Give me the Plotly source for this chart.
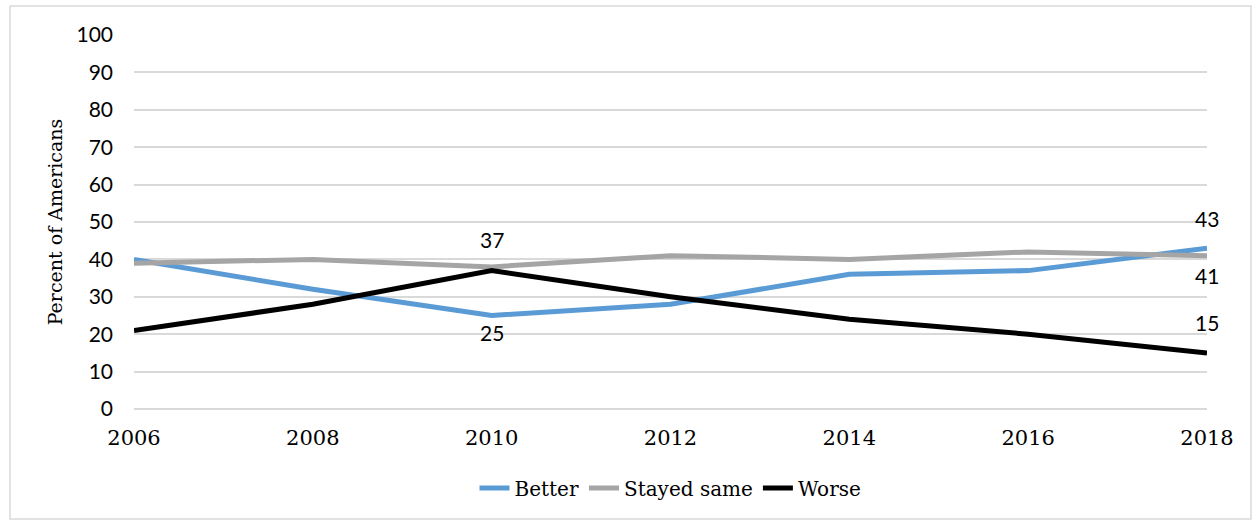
import plotly.graph_objects as go

years = [2006, 2008, 2010, 2012, 2014, 2016, 2018]
better = [40, 32, 25, 28, 36, 37, 43]
stayed_same = [39, 40, 38, 41, 40, 42, 41]
worse = [21, 28, 37, 30, 24, 20, 15]

# data labels: (series values, index, label offset in px: + above, - below)
label_points = [
    (worse, 2, 31),
    (better, 2, -17),
    (better, 6, 30),
    (stayed_same, 6, -20),
    (worse, 6, 30),
]

y_ticks = list(range(0, 101, 10))

serif = "DejaVu Serif"
sans = "Lato"

fig = go.Figure()
for name, vals, col in [("Better", better, "#5b9bd5"),
                        ("Stayed same", stayed_same, "#a5a5a5"),
                        ("Worse", worse, "#000000")]:
    fig.add_trace(go.Scatter(
        x=years, y=vals, name=name, mode="lines",
        line=dict(color=col, width=5),
        cliponaxis=False,
    ))

W, H = 1254, 521
ml, mr, mt, mb = 134, 47, 35, 112
pw, ph = W - ml - mr, H - mt - mb

def px_x(p):
    return (p - ml) / pw

def px_y(p):
    return (H - mb - p) / ph

annotations = []
for vals, i, off in label_points:
    annotations.append(dict(
        x=years[i], y=vals[i], xref="x", yref="y",
        text=str(vals[i]), showarrow=False,
        yanchor="middle", xanchor="center", yshift=off,
        font=dict(family=sans, size=21, color="#000000"),
    ))

fig.update_layout(
    width=W, height=H,
    margin=dict(l=ml, r=mr, t=mt, b=mb),
    paper_bgcolor="white", plot_bgcolor="white",
    showlegend=True,
    legend=dict(
        orientation="h", x=0.5, xanchor="center", y=px_y(488), yanchor="middle",
        font=dict(family=serif, size=20, color="#000000"),
        itemwidth=30, tracegroupgap=0,
    ),
    xaxis=dict(
        range=[2006, 2018], tickvals=years, ticktext=[str(y) for y in years],
        showgrid=False, zeroline=False, showline=False,
        tickfont=dict(family=serif, size=21, color="#000000"),
        ticks="", ticklabelstandoff=14,
    ),
    yaxis=dict(
        range=[0, 100], tickvals=y_ticks,
        showgrid=True, gridcolor="#d9d9d9", gridwidth=1.5,
        zeroline=True, zerolinecolor="#d9d9d9", zerolinewidth=1.5,
        showline=False,
        tickfont=dict(family=sans, size=21, color="#000000"),
        ticks="", ticklabelstandoff=20,
        title=dict(text="Percent of Americans", font=dict(family=serif, size=19, color="#000000"), standoff=8),
    ),
    annotations=annotations,
    shapes=[dict(
        type="rect", xref="paper", yref="paper",
        x0=px_x(10), x1=px_x(1251), y0=px_y(519), y1=px_y(6),
        line=dict(color="#d9d9d9", width=1.5), layer="below",
    )],
)

fig.write_html("out.html")
